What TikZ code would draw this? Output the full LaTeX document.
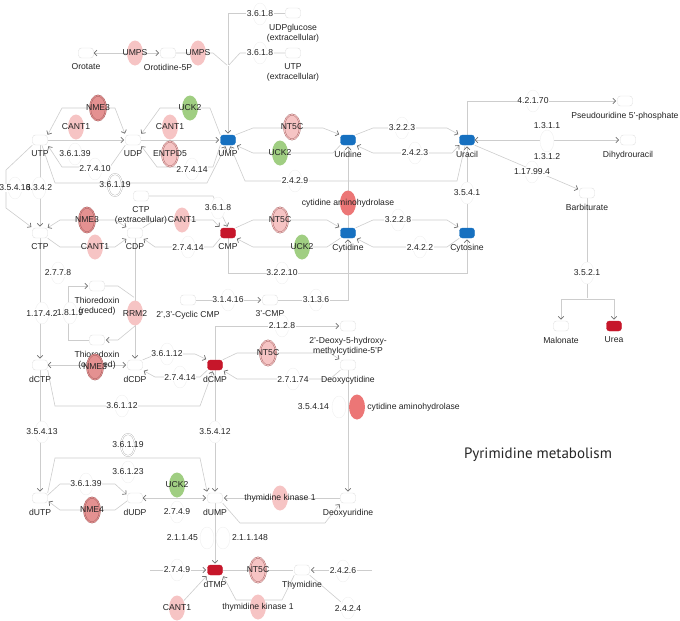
\documentclass[tikz,border=0pt]{standalone}
\usepackage{fontspec}
\setmainfont{Liberation Sans}
\newfontfamily\titlefont{PT Sans}
\usetikzlibrary{shapes.geometric,arrows.meta,positioning}

\definecolor{linegray}{RGB}{205,205,205}
\definecolor{tipgray}{RGB}{110,110,110}
\definecolor{txtgray}{RGB}{35,35,35}
\definecolor{mblue}{RGB}{22,112,192}
\definecolor{mred}{RGB}{198,22,42}
\definecolor{epink}{RGB}{246,196,196}
\definecolor{edark}{RGB}{228,145,145}
\definecolor{ering}{RGB}{150,85,85}
\definecolor{egreen}{RGB}{160,206,130}
\definecolor{esalmon}{RGB}{236,118,118}

\pgfdeclarelayer{background}
\pgfsetlayers{background,main}

\newcommand{\lblfont}{\fontsize{8.6}{10}\selectfont}

\tikzset{
  met/.style={rectangle, rounded corners=3pt, minimum width=15pt, minimum height=10pt, inner sep=0pt, draw=gray!25, fill=white},
  metblue/.style={met, draw=mblue, fill=mblue},
  metred/.style={met, draw=mred, fill=mred},
  mlab/.style={font=\lblfont, text=txtgray, inner sep=0.5pt, align=center, yshift=-5pt},
  enz/.style={ellipse, minimum width=16pt, minimum height=25pt, inner sep=0pt, fill=#1},
  enz/.default=epink,
  enzr/.style={enz=#1, draw=ering, double=#1, double distance=0.9pt, line width=0.35pt},
  enzr/.default=epink,
  etxt/.style={font=\lblfont, text=txtgray, inner sep=0pt},
  ec/.style={ellipse, minimum width=14pt, minimum height=22pt, inner sep=0pt, draw=gray!12, fill=white},
  ecd/.style={ec, draw=gray!65, double=white, double distance=1pt, line width=0.35pt},
  ectxt/.style={font=\lblfont, text=txtgray, inner sep=0.6pt, fill=white},
  ectxo/.style={font=\lblfont, text=txtgray, inner sep=0.6pt},
  rx/.style={draw=linegray, line width=0.6pt, shorten >=1.2pt}
}

\begin{document}
\begin{tikzpicture}[x=1pt, y=-1pt, >={Straight Barb[length=2.8pt,width=5.6pt,line width=0.7pt,color=tipgray]}]
\useasboundingbox (0,0) rectangle (680,621);

% metabolites
\node[met, label={[mlab]below:Orotate}] (orot) at (86,53) {};
\node[met, label={[mlab]below:Orotidine-5P}] (oro5p) at (168,53) {};
\node[met, label={[mlab]below:UDPglucose\\(extracellular)}] (udpg) at (293,13) {};
\node[met, label={[mlab]below:UTP\\(extracellular)}] (utpx) at (293,53) {};
\node[met, label={[mlab]below:UTP}] (utp) at (40,140) {};
\node[met, label={[mlab]below:UDP}] (udp) at (133,140) {};
\node[metblue, label={[mlab]below:UMP}] (ump) at (228,140) {};
\node[metblue, label={[mlab]below:Uridine}] (urd) at (348,140) {};
\node[metblue, label={[mlab]below:Uracil}] (ura) at (467,140) {};
\node[met, label={[mlab]below:Pseudouridine 5'-phosphate}] (psu) at (625,101) {};
\node[met, label={[mlab]below:Dihydrouracil}] (dhu) at (628,140) {};
\node[met, label={[mlab]below:Barbiturate}] (barb) at (587,193) {};
\node[met, label={[mlab]below:Malonate}] (malo) at (561,326) {};
\node[metred, label={[mlab]below:Urea}] (urea) at (614,326) {};

\node[met, label={[mlab]below:CTP\\(extracellular)}] (ctpx) at (141,196) {};
\node[met, label={[mlab]below:CTP}] (ctp) at (40,233) {};
\node[met, label={[mlab]below:CDP}] (cdp) at (135,233) {};
\node[metred, label={[mlab]below:CMP}] (cmp) at (228,233) {};
\node[metblue, label={[mlab]below:Cytidine}] (cyd) at (348,233) {};
\node[metblue, label={[mlab]below:Cytosine}] (cyt) at (467,233) {};
\node[met, label={[mlab]below:Thioredoxin\\(reduced)}] (trxr) at (97,286) {};
\node[met, label={[mlab]below:{2',3'-Cyclic CMP}}] (cycmp) at (188,300) {};
\node[met, label={[mlab]below:3'-CMP}] (cmp3) at (270,300) {};
\node[met, label={[mlab]below:Thioredoxin\\(oxidized)}] (trxo) at (97,340) {};

\node[met, label={[mlab]below:dCTP}] (dctp) at (40,365) {};
\node[met, label={[mlab]below:dCDP}] (dcdp) at (135,365) {};
\node[metred, label={[mlab]below:dCMP}] (dcmp) at (215,365) {};
\node[met, label={[mlab]below:2'-Deoxy-5-hydroxy-\\methylcytidine-5'P}] (hmdc) at (348,326) {};
\node[met, label={[mlab]below:Deoxycytidine}] (dcyd) at (348,365) {};
\node[met, label={[mlab]below:dUTP}] (dutp) at (40,498) {};
\node[met, label={[mlab]below:dUDP}] (dudp) at (135,498) {};
\node[met, label={[mlab]below:dUMP}] (dump) at (215,498) {};
\node[met, label={[mlab]below:Deoxyuridine}] (dud) at (348,498) {};
\node[metred, label={[mlab]below:dTMP}] (dtmp) at (215,570) {};
\node[met, label={[mlab]below:Thymidine}] (thd) at (302,570) {};

\coordinate (jn1) at (228,66);
\coordinate (jn2) at (587,299);
\coordinate (dtdp) at (150,570);
\coordinate (thsrc) at (372,570);

% enzymes
\node[enz, label={[etxt]center:UMPS}] (umps1) at (135,53) {};
\node[enz, label={[etxt]center:UMPS}] (umps2) at (198,53) {};
\node[enzr=edark, label={[etxt]center:NME3}] (nme3a) at (98,108) {};
\node[enz, label={[etxt]center:CANT1}] (cant1a) at (76,127) {};
\node[enz=egreen, label={[etxt]center:UCK2}] (uck2a) at (190,108) {};
\node[enz, label={[etxt]center:CANT1}] (cant1b) at (170,127) {};
\node[enzr, label={[etxt]center:ENTPD5}] (entpd5) at (170,154) {};
\node[enzr, label={[etxt]center:NT5C}] (nt5ca) at (292,127) {};
\node[enz=egreen, label={[etxt]center:UCK2}] (uck2b) at (280,153) {};
\node[enz=esalmon, label={[etxt]center:cytidine aminohydrolase}] (cdaa) at (348,203) {};
\node[enzr=edark, label={[etxt]center:NME3}] (nme3b) at (87,220) {};
\node[enz, label={[etxt]center:CANT1}] (cant1c) at (95,247) {};
\node[enz, label={[etxt]center:CANT1}] (cant1d) at (182,220) {};
\node[enzr, label={[etxt]center:NT5C}] (nt5cb) at (280,220) {};
\node[enz=egreen, label={[etxt]center:UCK2}] (uck2c) at (302,247) {};
\node[enz, label={[etxt]center:RRM2}] (rrm2) at (135,313) {};
\node[enzr=edark, label={[etxt]center:NME3}] (nme3c) at (95,367) {};
\node[enzr, label={[etxt]center:NT5C}] (nt5cc) at (268,353) {};
\node[enz=esalmon, label={[etxt,xshift=2pt]right:cytidine aminohydrolase}] (cdab) at (357,407) {};
\node[enz=egreen, label={[etxt]center:UCK2}] (uck2d) at (177,485) {};
\node[enzr=edark, label={[etxt]center:NME4}] (nme4) at (92,510) {};
\node[enz, label={[etxt]center:thymidine kinase 1}] (tk1a) at (280,498) {};
\node[enzr, label={[etxt]center:NT5C}] (nt5cd) at (258,570) {};
\node[enz, label={[etxt]center:CANT1}] (cant1e) at (177,608) {};
\node[enz, label={[etxt]center:thymidine kinase 1}] (tk1b) at (258,607) {};

% EC numbers
\node[ec, label={[ectxt]center:3.6.1.8}] (e3618a) at (260,14) {};
\node[ec, label={[ectxt]center:3.6.1.8}] (e3618b) at (260,53) {};
\node[ec, label={[ectxt]center:3.6.1.39}] (e36139a) at (75,154) {};
\node[ec, label={[ectxt]center:2.7.4.10}] (e27410) at (95,169) {};
\node[ec, label={[ectxt]center:2.7.4.14}] (e27414a) at (192,169) {};
\node[ecd, label={[ectxo]center:3.6.1.19}] (e36119a) at (115,185) {};
\node[ec, label={[ectxt]center:3.5.4.13}] (e35413a) at (15,188) {};
\node[ec, label={[ectxo]center:6.3.4.2}] (e6342) at (39,188) {};
\node[ec, label={[ectxt]center:2.4.2.9}] (e2429) at (295,181) {};
\node[ec, label={[ectxt]center:3.2.2.3}] (e3223) at (402,128) {};
\node[ec, label={[ectxt]center:2.4.2.3}] (e2423) at (415,153) {};
\node[ec, label={[ectxt]center:3.5.4.1}] (e3541) at (467,193) {};
\node[ec, label={[ectxt]center:4.2.1.70}] (e42170) at (533,101) {};
\node[ec, label={[ectxo]above:1.3.1.1}, label={[ectxo]below:1.3.1.2}] (e1311) at (547,141) {};
\node[ec, label={[ectxt]center:1.17.99.4}] (e117994) at (532,172) {};
\node[ec, label={[ectxt]center:3.5.2.1}] (e3521) at (587,273) {};
\node[ec, label={[ectxt]center:3.6.1.8}] (e3618c) at (218,208) {};
\node[ec, label={[ectxt]center:3.2.2.8}] (e3228) at (398,220) {};
\node[ec, label={[ectxt]center:2.4.2.2}] (e2422) at (420,247) {};
\node[ec, label={[ectxt]center:2.7.4.14}] (e27414b) at (188,247) {};
\node[ec, label={[ectxt]center:3.2.2.10}] (e32210) at (282,273) {};
\node[ec, label={[ectxt]center:2.7.7.8}] (e2778) at (58,273) {};
\node[ec, label={[ectxt]center:1.17.4.2}] (e11742) at (42,313) {};
\node[ec, label={[ectxo]center:1.8.1.9}] (e1819) at (70,313) {};
\node[ec, label={[ectxt]center:3.1.4.16}] (e31416) at (228,300) {};
\node[ec, label={[ectxt]center:3.1.3.6}] (e3136) at (316,300) {};
\node[ec, label={[ectxt]center:2.1.2.8}] (e2128) at (282,326) {};
\node[ec, label={[ectxt]center:3.6.1.12}] (e36112a) at (167,354) {};
\node[ec, label={[ectxt]center:2.7.4.14}] (e27414c) at (180,377) {};
\node[ec, label={[ectxt]center:2.7.1.74}] (e27174) at (293,379) {};
\node[ec, label={[ectxt]center:3.6.1.12}] (e36112b) at (122,406) {};
\node[ec, label={[ectxo,xshift=-2pt]left:3.5.4.14}] (e35414) at (339,407) {};
\node[ec, label={[ectxt]center:3.5.4.13}] (e35413b) at (42,432) {};
\node[ec, label={[ectxt]center:3.5.4.12}] (e35412) at (215,432) {};
\node[ecd, label={[ectxo]center:3.6.1.19}] (e36119b) at (128,445) {};
\node[ec, label={[ectxt]center:3.6.1.23}] (e36123) at (128,472) {};
\node[ec, label={[ectxt]center:3.6.1.39}] (e36139b) at (86,484) {};
\node[ec, label={[ectxt]center:2.7.4.9}] (e2749a) at (177,512) {};
\node[ec, label={[ectxo,xshift=-1pt]left:2.1.1.45}] (e21145) at (207,538) {};
\node[ec, label={[ectxo,xshift=1pt]right:2.1.1.148}] (e211148) at (223,538) {};
\node[ec, label={[ectxt]center:2.7.4.9}] (e2749b) at (177,570) {};
\node[ec, label={[ectxt]center:2.4.2.6}] (e2426) at (343,571) {};
\node[ec, label={[ectxt]center:2.4.2.4}] (e2424) at (348,608) {};

\node[font=\titlefont\fontsize{15}{17}\selectfont, text=black!85] (title) at (538,455) {Pyrimidine metabolism};

% connectors
\begin{pgfonlayer}{background}
\draw[rx,<->] (orot) -- (oro5p);
\draw[rx] (oro5p) -- (213,53) -- (jn1);
\draw[rx] (udpg) -- (228,13) -- (jn1);
\draw[rx] (utpx) -- (240,53) -- (jn1);
\draw[rx,->] (jn1) -- (ump);
% UTP / UDP / UMP
\draw[rx,<->] (utp.north east) -- (62,108) -- (115,108) -- (udp.north west);
\draw[rx,->] (utp) -- (udp);
\draw[rx,->] (udp.south west) -- (110,167) -- (62,167) -- (utp.south east);
\draw[rx,->] (ump.north west) -- (210,108) -- (160,108) -- (udp.north east);
\draw[rx,->] (udp) -- (ump);
\draw[rx,->] (ump.south west) -- (213,167) -- (157,167) -- (udp.south east);
\draw[rx,->] (utp.-70) -- (55,183) -- (207,183) -- (ump.-110);
\draw[rx,->] (utp) -- (ctp);
\draw[rx,->] (utp.south west) -- (6,170) -- (6,208) -- (ctp.north west);
% uridine / uracil
\draw[rx,->] (ump.north east) -- (253,128) -- (323,128) -- (urd.north west);
\draw[rx,->] (urd.south west) -- (333,153) -- (253,153) -- (ump.south east);
\draw[rx,->] (urd.north east) -- (373,128) -- (447,128) -- (ura.north west);
\draw[rx,<->] (ura.south west) -- (452,153) -- (373,153) -- (urd.south east);
\draw[rx,->] (ura.-110) -- (457,181) -- (245,181) -- (ump.-70);
\draw[rx,->] (cyd) -- (urd);
\draw[rx,->] (cyt) -- (ura);
\draw[rx,->] (ura.north) -- (467,101) -- (psu);
\draw[rx,<->] (ura) -- (dhu);
\draw[rx,->] (ura.south east) -- (barb);
\draw[rx] (barb) -- (jn2);
\draw[rx,->] (jn2) -| (malo);
\draw[rx,->] (jn2) -| (urea);
% cytidine row
\draw[rx,<->] (ctp.north east) -- (60,220) -- (115,220) -- (cdp.north west);
\draw[rx,->] (ctp.south east) -- (60,247) -- (115,247) -- (cdp.south west);
\draw[rx,->] (cdp.north east) -- (155,220) -- (213,220) -- (cmp.north west);
\draw[rx,->] (cmp.south west) -- (213,247) -- (155,247) -- (cdp.south east);
\draw[rx,->] (ctpx) -- (213,196) -- (cmp.north);
\draw[rx,->] (cmp.north east) -- (253,220) -- (327,220) -- (cyd.north west);
\draw[rx,->] (cyd.south west) -- (327,247) -- (253,247) -- (cmp.south east);
\draw[rx,->] (cyd.north east) -- (373,220) -- (447,220) -- (cyt.north west);
\draw[rx,->] (cyt.south west) -- (447,247) -- (373,247) -- (cyd.south east);
\draw[rx,->] (cmp) -- (228,273) -- (467,273) -- (cyt);
\draw[rx,->] (cmp3) -- (348,300) -- (cyd);
\draw[rx,->] (cycmp) -- (cmp3);
% ribonucleotide reductase
\draw[rx,->] (cdp) -- (dcdp);
\draw[rx] (trxr) -- (118,286) -- (135,298);
\draw[rx,->] (135,326) -- (118,340) -- (trxo);
\draw[rx,->] (trxo) -- (68,340) -- (68,286) -- (trxr);
\draw[rx,->] (ctp) -- (dctp);
% deoxycytidine row
\draw[rx,<->] (dctp) -- (dcdp);
\draw[rx,->] (dcdp.north east) -- (157,354) -- (195,354) -- (dcmp.north west);
\draw[rx,->] (dcmp.south west) -- (200,377) -- (155,377) -- (dcdp.south east);
\draw[rx,->] (dctp.south east) -- (55,406) -- (200,406) -- (dcmp.-110);
\draw[rx,->] (dcmp.north) -- (215,326) -- (hmdc);
\draw[rx,->] (dcmp.north east) -- (237,353) -- (330,353) -- (dcyd.north west);
\draw[rx,->] (dcyd.south west) -- (330,379) -- (237,379) -- (dcmp.south east);
\draw[rx,->] (dcyd) -- (dud);
\draw[rx,->] (dctp) -- (dutp);
\draw[rx,->] (dcmp) -- (dump);
% deoxyuridine row
\draw[rx,->] (dutp.north east) -- (55,458) -- (200,458) -- (dump.north west);
\draw[rx,->] (dutp.20) -- (60,484) -- (115,484) -- (dudp.160);
\draw[rx,->] (dudp.-160) -- (115,510) -- (60,510) -- (dutp.-20);
\draw[rx,<->] (dudp) -- (dump);
\draw[rx,->] (dud) -- (dump);
\draw[rx,->] (dump.south east) -- (240,523) -- (325,523) -- (dud.south west);
\draw[rx,->] (dump) -- (dtmp);
% thymidine row
\draw[rx,->] (dtdp) -- (dtmp);
\draw[rx] (dtmp) -- (thd);
\draw[rx,->] (thsrc) -- (thd);
\draw[rx] (thd.south east) -- (e2424);
\draw[rx,->] (thd.south west) -- (282,600) -- (236,600) -- (dtmp.south east);
\draw[rx,->] (cant1e) -- (dtmp.south west);
\end{pgfonlayer}
\end{tikzpicture}
\end{document}
